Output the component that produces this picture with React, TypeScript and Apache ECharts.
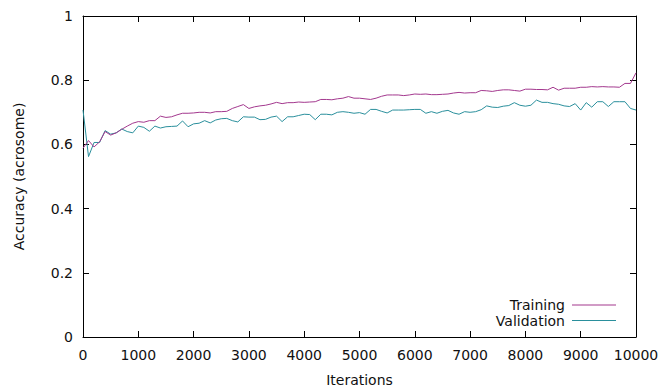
import React, { useEffect, useRef } from "react";
import * as echarts from "echarts";

const iterations = [
  0, 100, 200, 300, 400, 500, 600, 700, 800, 900,
  1000, 1100, 1200, 1300, 1400, 1500, 1600, 1700, 1800, 1900,
  2000, 2100, 2200, 2300, 2400, 2500, 2600, 2700, 2800, 2900,
  3000, 3100, 3200, 3300, 3400, 3500, 3600, 3700, 3800, 3900,
  4000, 4100, 4200, 4300, 4400, 4500, 4600, 4700, 4800, 4900,
  5000, 5100, 5200, 5300, 5400, 5500, 5600, 5700, 5800, 5900,
  6000, 6100, 6200, 6300, 6400, 6500, 6600, 6700, 6800, 6900,
  7000, 7100, 7200, 7300, 7400, 7500, 7600, 7700, 7800, 7900,
  8000, 8100, 8200, 8300, 8400, 8500, 8600, 8700, 8800, 8900,
  9000, 9100, 9200, 9300, 9400, 9500, 9600, 9700, 9800, 9900,
  10000,
];

const training = [
  0.588, 0.612, 0.592, 0.608, 0.640, 0.629, 0.636, 0.647, 0.657, 0.666,
  0.671, 0.669, 0.674, 0.674, 0.688, 0.684, 0.686, 0.692, 0.697, 0.697,
  0.698, 0.700, 0.700, 0.698, 0.702, 0.702, 0.703, 0.712, 0.718, 0.724,
  0.712, 0.717, 0.720, 0.722, 0.726, 0.731, 0.727, 0.730, 0.730, 0.732,
  0.731, 0.732, 0.733, 0.740, 0.740, 0.739, 0.742, 0.744, 0.749, 0.744,
  0.744, 0.742, 0.740, 0.744, 0.750, 0.754, 0.754, 0.754, 0.752, 0.754,
  0.757, 0.756, 0.757, 0.755, 0.755, 0.756, 0.757, 0.760, 0.762, 0.760,
  0.761, 0.761, 0.768, 0.767, 0.765, 0.768, 0.770, 0.770, 0.768, 0.766,
  0.772, 0.772, 0.771, 0.771, 0.770, 0.778, 0.769, 0.775, 0.775, 0.775,
  0.778, 0.778, 0.780, 0.779, 0.780, 0.779, 0.779, 0.778, 0.790, 0.790,
  0.823,
];

const validation = [
  0.707, 0.562, 0.606, 0.606, 0.643, 0.632, 0.636, 0.648, 0.640, 0.636,
  0.657, 0.653, 0.641, 0.657, 0.651, 0.655, 0.656, 0.657, 0.673, 0.655,
  0.664, 0.666, 0.674, 0.667, 0.676, 0.680, 0.681, 0.674, 0.670, 0.686,
  0.685, 0.685, 0.677, 0.678, 0.685, 0.688, 0.671, 0.686, 0.686, 0.690,
  0.694, 0.693, 0.677, 0.694, 0.694, 0.692, 0.700, 0.702, 0.700, 0.697,
  0.699, 0.694, 0.709, 0.709, 0.703, 0.698, 0.707, 0.707, 0.707, 0.708,
  0.709, 0.709, 0.697, 0.702, 0.697, 0.703, 0.706, 0.698, 0.694, 0.702,
  0.700, 0.702, 0.708, 0.720, 0.716, 0.715, 0.719, 0.721, 0.730, 0.722,
  0.719, 0.722, 0.738, 0.731, 0.731, 0.727, 0.725, 0.720, 0.718, 0.727,
  0.707, 0.730, 0.716, 0.733, 0.733, 0.718, 0.733, 0.733, 0.733, 0.712,
  0.707,
];

const seriesNames = ["Training", "Validation"];
const seriesColors = ["#a3388e", "#2a8f9c"];

const FONT = "DejaVu Sans";
const TXT = "#111";
const FS = 14;

export default function App() {
  const ref = useRef<HTMLDivElement>(null);
  useEffect(() => {
    if (!ref.current) return;
    const chart = echarts.init(ref.current, undefined, { renderer: "svg" });
    const tickCommon = {
      show: true,
      inside: true,
      length: 6,
      lineStyle: { color: "#000", width: 1 },
    };
    chart.setOption({
      animation: false,
      backgroundColor: "#fff",
      textStyle: { fontFamily: FONT },
      grid: {
        left: 83,
        right: 26,
        top: 16,
        bottom: 50,
        containLabel: false,
        outerBoundsMode: "none",
      },
      legend: {
        orient: "vertical",
        right: 46,
        top: 298,
        align: "right",
        icon: "rect",
        itemWidth: 44,
        itemHeight: 1,
        itemGap: 1.5,
        padding: 0,
        textStyle: { fontFamily: FONT, fontSize: FS, color: TXT, padding: [0, 2, 0, 0] },
        data: seriesNames,
      },
      xAxis: [
        {
          type: "value",
          min: 0,
          max: 10000,
          interval: 1000,
          name: "Iterations",
          nameLocation: "middle",
          nameGap: 36,
          nameTextStyle: { fontFamily: FONT, fontSize: FS, color: TXT },
          axisLine: { show: true, onZero: false, lineStyle: { color: "#000", width: 1 } },
          axisTick: tickCommon,
          axisLabel: {
            fontFamily: FONT,
            fontSize: FS,
            color: TXT,
            margin: 11,
            formatter: (v: number) => String(v),
          },
          splitLine: { show: false },
        },
        {
          type: "value",
          position: "top",
          min: 0,
          max: 10000,
          interval: 1000,
          axisLine: { show: true, onZero: false, lineStyle: { color: "#000", width: 1 } },
          axisTick: tickCommon,
          axisLabel: { show: false },
          splitLine: { show: false },
        },
      ],
      yAxis: [
        {
          type: "value",
          min: 0,
          max: 1,
          interval: 0.2,
          name: "Accuracy (acrosome)",
          nameLocation: "middle",
          nameGap: 57,
          nameTextStyle: { fontFamily: FONT, fontSize: FS, color: TXT },
          axisLine: { show: true, onZero: false, lineStyle: { color: "#000", width: 1 } },
          axisTick: tickCommon,
          axisLabel: { fontFamily: FONT, fontSize: FS, color: TXT, margin: 10 },
          splitLine: { show: false },
        },
        {
          type: "value",
          position: "right",
          min: 0,
          max: 1,
          interval: 0.2,
          axisLine: { show: true, onZero: false, lineStyle: { color: "#000", width: 1 } },
          axisTick: tickCommon,
          axisLabel: { show: false },
          splitLine: { show: false },
        },
      ],
      series: [
        {
          name: seriesNames[0],
          type: "line",
          symbol: "none",
          color: seriesColors[0],
          lineStyle: { width: 1, color: seriesColors[0] },
          data: iterations.map((x, i) => [x, training[i]]),
          z: 3,
        },
        {
          name: seriesNames[1],
          type: "line",
          symbol: "none",
          color: seriesColors[1],
          lineStyle: { width: 1, color: seriesColors[1] },
          data: iterations.map((x, i) => [x, validation[i]]),
          z: 2,
        },
      ],
    });
    return () => chart.dispose();
  }, []);
  return <div ref={ref} style={{ width: 662, height: 387, position: "absolute", left: 0, top: 0 }} />;
}
